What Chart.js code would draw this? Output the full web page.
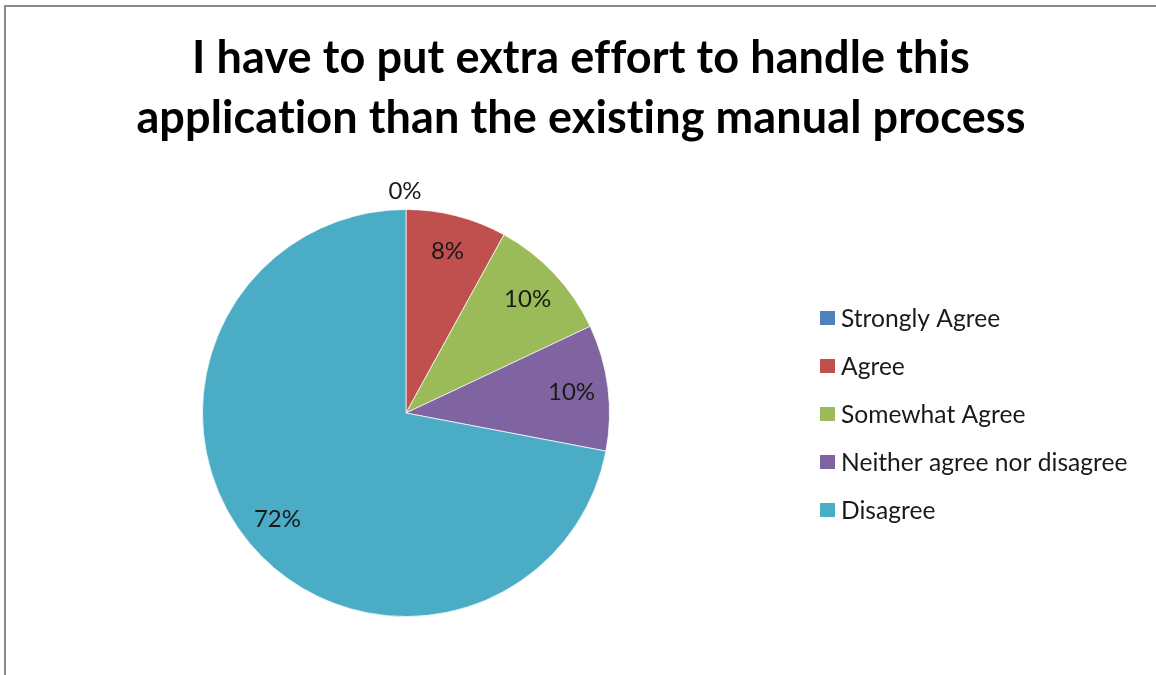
<!DOCTYPE html>
<html>
<head>
<meta charset="utf-8">
<script src="https://cdn.jsdelivr.net/npm/chart.js@4.4.1/dist/chart.umd.min.js"></script>
<style>
  html, body { margin: 0; padding: 0; background: #fff; }
  #frame {
    position: absolute; left: 0; top: 0; width: 1156px; height: 675px;
    background: #fff; overflow: hidden;
  }
  #frame::before {
    content: ""; position: absolute; left: 4px; top: 5px; right: 0; bottom: 0;
    border-left: 2px solid #8a8a8a; border-top: 2px solid #8a8a8a;
    pointer-events: none; z-index: 2;
  }
  canvas { position: absolute; left: 0; top: 0; }
</style>
</head>
<body>
<div id="frame"><canvas id="c" width="1156" height="675"></canvas></div>
<script>
// Survey answers and their shares (%)
const categories = ['Strongly Agree', 'Agree', 'Somewhat Agree', 'Neither agree nor disagree', 'Disagree'];
const shares = [0, 8, 10, 10, 72];
const sliceColors = ['#4F81BD', '#C0504D', '#9BBB59', '#8064A2', '#4BACC6'];
const titleLines = ['I have to put extra effort to handle this', 'application than the existing manual process'];

const FONT = 'Lato, Carlito, Calibri, "Open Sans", sans-serif';

// Two-line heading centred across the whole frame
const heading = {
  id: 'heading',
  afterDraw(chart) {
    const ctx = chart.ctx;
    ctx.save();
    ctx.font = 'bold 45px ' + FONT;
    if ('letterSpacing' in ctx) ctx.letterSpacing = '0.1px'; // keeps "ti"/"ff" as separate glyphs
    ctx.fillStyle = '#000';
    ctx.textAlign = 'center';
    ctx.textBaseline = 'middle';
    titleLines.forEach((line, i) => ctx.fillText(line, 581, 58 + i * 60));
    ctx.restore();
  }
};

// Percentage labels placed inside each slice (zero slices just outside the rim)
const sliceLabels = {
  id: 'sliceLabels',
  afterDatasetsDraw(chart) {
    const ctx = chart.ctx;
    const meta = chart.getDatasetMeta(0);
    ctx.save();
    ctx.font = '24px ' + FONT;
    ctx.fillStyle = '#1a1a1a';
    ctx.textAlign = 'center';
    ctx.textBaseline = 'middle';
    meta.data.forEach((arc, i) => {
      const p = arc.getProps(['x', 'y', 'startAngle', 'endAngle', 'outerRadius'], true);
      const mid = (p.startAngle + p.endAngle) / 2;
      const r = shares[i] === 0 ? p.outerRadius + 18 : p.outerRadius * 0.82;
      const x = p.x + Math.cos(mid) * r - (shares[i] === 0 ? 1 : 0);
      const y = p.y + Math.sin(mid) * r;
      ctx.fillText(shares[i] + '%', x, y);
    });
    ctx.restore();
  }
};

// Legend at the right, one row per answer
const sideLegend = {
  id: 'sideLegend',
  afterDraw(chart) {
    const ctx = chart.ctx;
    ctx.save();
    ctx.font = '24.6px ' + FONT;
    ctx.textBaseline = 'middle';
    const x0 = 820, y0 = 318, step = 48;
    categories.forEach((name, i) => {
      const y = y0 + i * step;
      ctx.fillStyle = sliceColors[i];
      ctx.fillRect(x0, y - 7, 15, 14);
      ctx.fillStyle = '#1a1a1a';
      ctx.fillText(name, x0 + 21, y + 1);
    });
    ctx.restore();
  }
};

new Chart(document.getElementById('c'), {
  type: 'pie',
  data: {
    labels: categories,
    datasets: [{
      data: shares,
      backgroundColor: sliceColors,
      borderColor: 'rgba(255,255,255,0.7)',
      borderWidth: 1
    }]
  },
  options: {
    responsive: false,
    animation: false,
    events: [],
    layout: { padding: { left: 202, right: 546, top: 209, bottom: 58 } },
    plugins: {
      legend: { display: false },
      tooltip: { enabled: false },
      title: { display: false }
    }
  },
  plugins: [sliceLabels, sideLegend, heading]
});
</script>
</body>
</html>
